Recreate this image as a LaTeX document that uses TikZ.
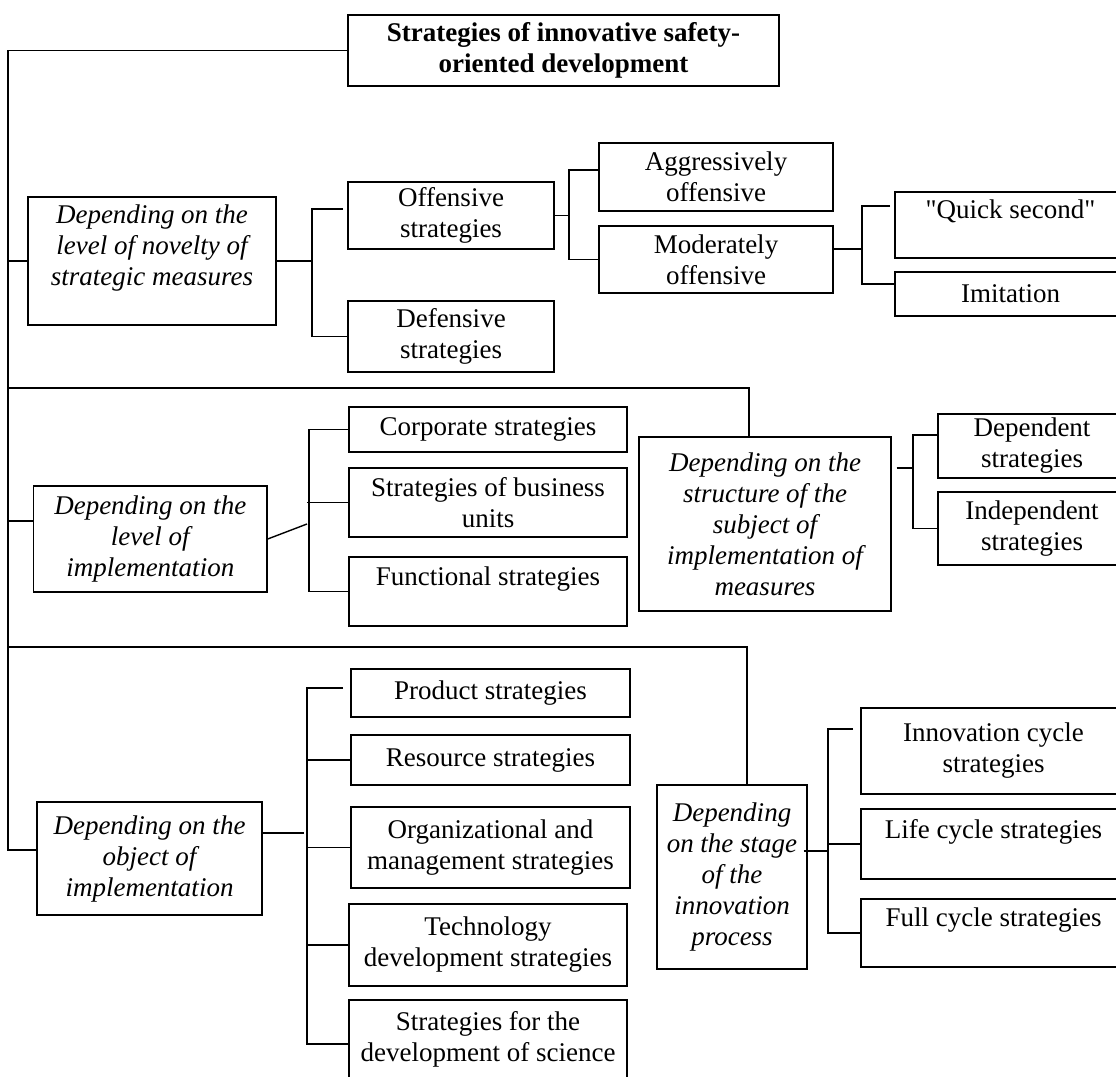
\documentclass[tikz,border=0pt]{standalone}
\usepackage{fontspec}
\setmainfont{Liberation Serif}[Ligatures=TeXOff]
\usetikzlibrary{positioning}

\newcommand{\bigtext}{\fontsize{27}{31}\selectfont}

\tikzset{
  box/.style={draw, line width=1.4pt, align=center, inner sep=2pt, font=\bigtext},
  dep/.style={box, font=\bigtext\itshape},
  link/.style={line width=1.4pt}
}

\begin{document}
\begin{tikzpicture}[x=1pt, y=-1pt]
        \useasboundingbox (0,0) rectangle (1116,1076);
        \clip (0,0) rectangle (1116,1076);

        % Title
        \node[box, font=\bigtext\bfseries, minimum width=431, minimum height=71] (title) at (563.5,50.5) {Strategies of innovative safety-\\oriented development};

        % Level of novelty
        \node[dep, minimum width=248, minimum height=128] (nov) at (152,261) {Depending on the\\level of novelty of\\strategic measures\\ };
        \node[box, minimum width=206, minimum height=67] (off) at (451,215.5) {Offensive\\strategies};
        \node[box, minimum width=206, minimum height=71] (def) at (451,336.5) {Defensive\\strategies};
        \node[box, minimum width=234, minimum height=68] (agg) at (716,177) {Aggressively\\offensive};
        \node[box, minimum width=234, minimum height=67] (mod) at (716,259.5) {Moderately\\offensive};
        \node[box, minimum width=231, minimum height=66] (quick) at (1010.5,225) {"Quick second"\\ };
        \node[box, minimum width=231, minimum height=44] (imit) at (1010.5,294) {Imitation};

        % Level of implementation
        \node[dep, minimum width=233.5, minimum height=106] (impl) at (150.25,539) {Depending on the\\level of\\implementation};
        \node[box, minimum width=278, minimum height=45] (corp) at (488,429.5) {Corporate strategies};
        \node[box, minimum width=278, minimum height=69] (bus) at (488,502.5) {Strategies of business\\units};
        \node[box, minimum width=278, minimum height=69] (func) at (488,591.5) {Functional strategies\\ };

        % Structure of the subject
        \node[dep, minimum width=252, minimum height=174] (struct) at (765,524) {Depending on the\\structure of the\\subject of\\implementation of\\measures};
        \node[box, minimum width=188, minimum height=64] (dept) at (1032,446) {Dependent\\strategies};
        \node[box, minimum width=188, minimum height=73] (indep) at (1032,528.5) {Independent\\strategies};

        % Object of implementation
        \node[dep, minimum width=225, minimum height=113] (obj) at (149.5,858.5) {Depending on the\\object of\\implementation};
        \node[box, minimum width=279, minimum height=48] (prod) at (490.5,693) {Product strategies};
        \node[box, minimum width=279, minimum height=50] (res) at (490.5,760) {Resource strategies};
        \node[box, minimum width=279, minimum height=81] (org) at (490.5,847.5) {Organizational and\\management strategies};
        \node[box, minimum width=278, minimum height=82] (tech) at (488,945) {Technology\\development strategies};
        \node[box, minimum width=278, minimum height=78] (sci) at (488,1039) {Strategies for the\\development of science};

        % Stage of the innovation process
        \node[dep, minimum width=150, minimum height=184] (stage) at (732,877) {Depending\\on the stage\\of the\\innovation\\process};
        \node[box, minimum width=265, minimum height=86] (innov) at (993.5,751) {Innovation cycle\\strategies};
        \node[box, minimum width=265, minimum height=70] (life) at (993.5,844) {Life cycle strategies\\ };
        \node[box, minimum width=265, minimum height=68] (full) at (993.5,933) {Full cycle strategies\\ };

        % Main spine
        \coordinate (sp) at (8,850);
        \draw[link] (title.west) -| (sp) -- ([yshift=8.5]obj.west);
        \draw[link] (nov.west) -- (nov.west -| sp);
        \coordinate (c1) at ([yshift=18]impl.west);
        \draw[link] (c1) -- (c1 -| sp);
        \coordinate (r1) at (749,388);
        \draw[link] (r1 -| sp) -- (r1) -- (r1 |- struct.north);
        \coordinate (r2) at (747,647);
        \draw[link] (r2 -| sp) -- (r2) -- (r2 |- stage.north);

        % Novelty branches
        \draw[link] (nov.east) -- (312,261);
        \draw[link] (343,209) -- (312,209) |- (def.west);
        \draw[link] (off.east) -- (off.east -| 569,0);
        \draw[link] ([yshift=7]agg.west) -| (mod.west -| 569,0) -- (mod.west);
        \draw[link] ([yshift=10.5]mod.east) -- +(29,0);
        \draw[link] (890,206) -- (862,206) |- ([yshift=10]imit.west);

        % Implementation branches
        \draw[link] (impl.east) -- (307,524);
        \draw[link] (corp.west) -| (func.west -| 309,0) -- (func.west);
        \draw[link] (307,502.5) -- (bus.west);

        % Structure branches
        \draw[link] ([xshift=5,yshift=56]struct.east) -- +(15,0);
        \draw[link] ([yshift=11]dept.west) -| (indep.west -| 913,0) -- (indep.west);

        % Object branches
        \draw[link] ([yshift=25.5]obj.east) -- (304,833);
        \draw[link] (343,688) -- (307,688) |- ([yshift=-5]sci.west);
        \foreach \n in {res,org,tech}
          \draw[link] (\n.west) -- (\n.west -| 307,0);

        % Stage branches
        \draw[link] ([xshift=-4,yshift=26]stage.east) -- +(25,0);
        \draw[link] (853,729) -- (828,729) |- (full.west);
        \draw[link] (life.west) -- (life.west -| 828,0);
\end{tikzpicture}
\end{document}
